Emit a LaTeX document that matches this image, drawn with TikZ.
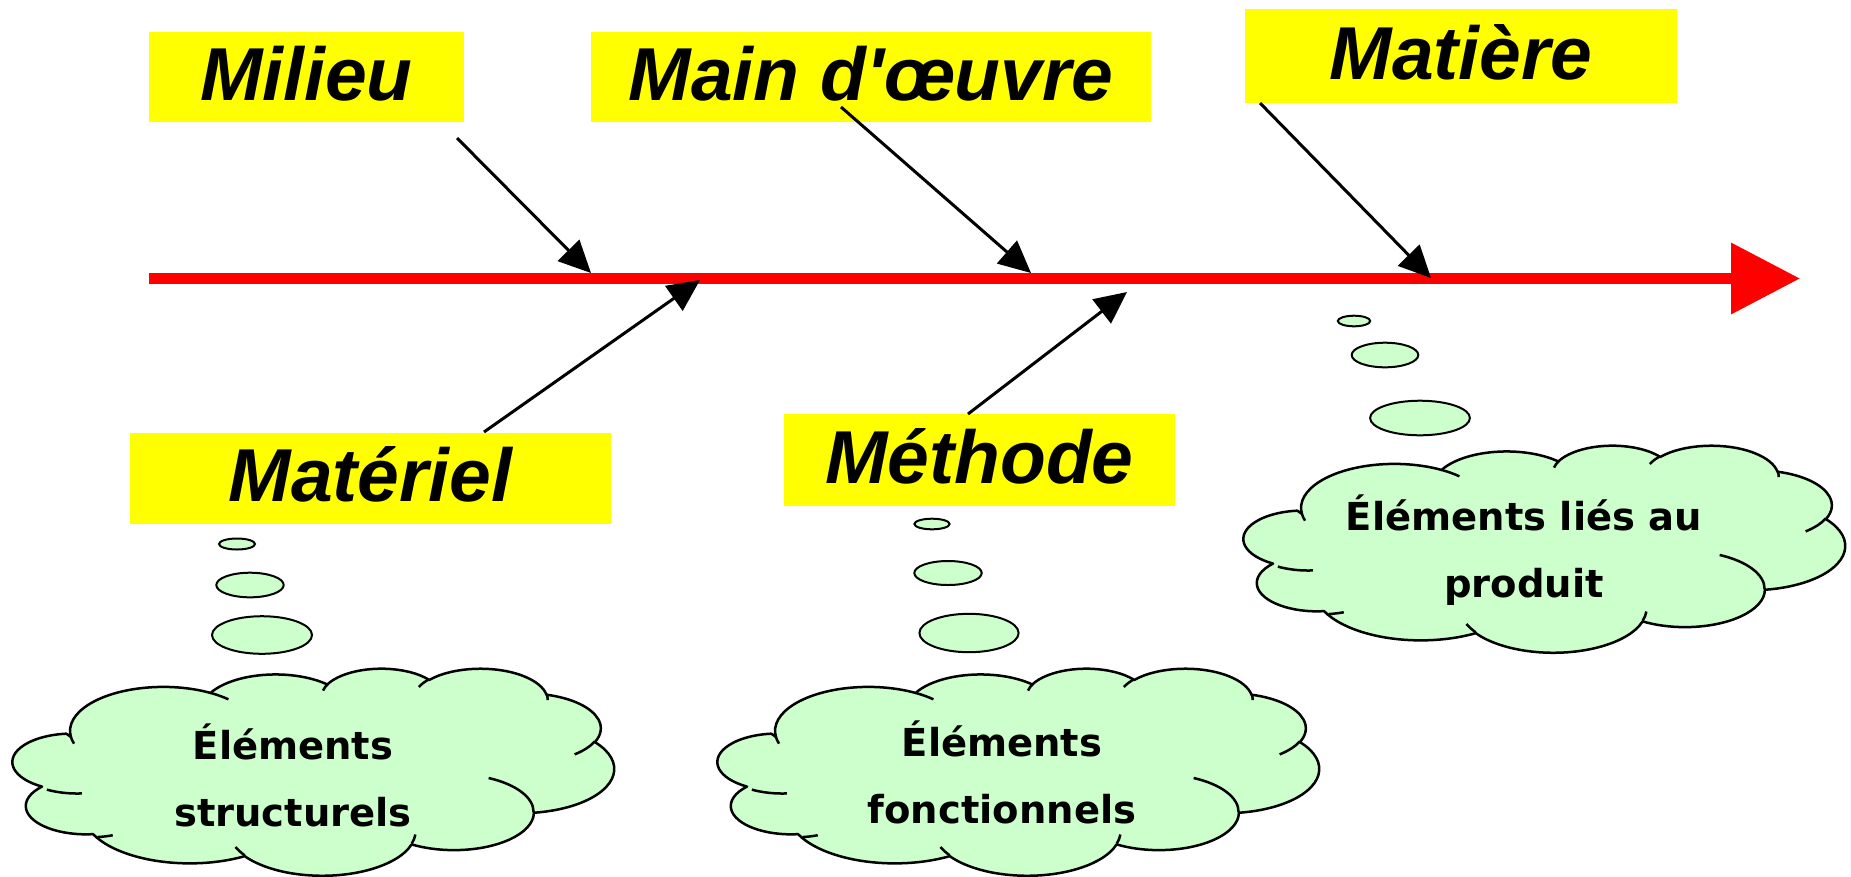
\documentclass[tikz,border=0pt]{standalone}
\usepackage{fontspec}
\setmainfont{Liberation Sans}
\newfontfamily\titlefam{Liberation Sans}[Ligatures=TeXOff]
\newfontfamily\cloudfam{DejaVu Sans}
\usetikzlibrary{arrows.meta}

\definecolor{labelyellow}{RGB}{255,255,0}
\definecolor{spinered}{RGB}{255,0,0}
\definecolor{cloudgreen}{RGB}{204,255,204}

% Elliptical arcs given by visual start/sweep angles -> parametric angles
\newcommand\setcloudarc[5]{%
  \pgfmathsetmacro\tmpa{atan2(#2*sin(#4),#3*cos(#4))}%
  \pgfmathsetmacro\tmpb{atan2(#2*sin(#4+#5),#3*cos(#4+#5))}%
  \pgfmathsetmacro\tmpd{\tmpb-\tmpa}%
  \pgfmathsetmacro\tmpd{\tmpd+360*(\tmpd<0)}%
  \expandafter\xdef\csname cl#1s\endcsname{\tmpa}%
  \expandafter\xdef\csname cl#1d\endcsname{\tmpd}%
}
% outline
\setcloudarc{A}{67.53}{91.90}{-190.4875}{123.7805}
\setcloudarc{B}{53.33}{72.67}{-144.1024}{89.9452}
\setcloudarc{C}{43.65}{59.45}{-145.8079}{99.7230}
\setcloudarc{D}{48.57}{65.95}{-130.9861}{117.2417}
\setcloudarc{E}{53.33}{72.73}{-78.7089}{109.0269}
\setcloudarc{F}{67.75}{92.20}{-46.2673}{130.2690}
\setcloudarc{G}{57.85}{78.67}{0.6250}{114.0333}
\setcloudarc{H}{67.52}{92.15}{22.4516}{115.1726}
\setcloudarc{I}{77.20}{105.43}{66.2426}{81.3690}
\setcloudarc{J}{43.60}{59.18}{-274.9421}{146.7356}
\setcloudarc{K}{43.45}{59.45}{-246.8285}{152.5189}
% inner strokes
\setcloudarc{a}{43.45}{59.45}{86.7420}{26.4295}
\setcloudarc{b}{43.60}{59.18}{73.6105}{11.4475}
\setcloudarc{c}{67.52}{92.15}{137.6242}{14.0811}
\setcloudarc{d}{67.52}{92.15}{6.4533}{15.9984}
\setcloudarc{e}{57.85}{78.67}{-70.2924}{70.9174}
\setcloudarc{f}{53.33}{72.73}{30.3180}{27.7515}
\setcloudarc{g}{48.57}{65.95}{-13.7443}{14.8589}
\setcloudarc{h}{48.57}{65.95}{-149.1815}{18.1954}
\setcloudarc{i}{43.65}{59.45}{-163.4943}{17.6864}
\setcloudarc{j}{67.53}{91.90}{-66.7070}{12.3194}
\setcloudarc{k}{67.53}{91.90}{157.6544}{11.8582}

\newcommand\titlefont{\titlefam\fontsize{75}{80}\selectfont\bfseries\itshape}
\newcommand\cloudfont{\cloudfam\fontsize{38.5}{67}\selectfont\bfseries}

\tikzset{
  thoughtcloud/.pic={
    \begin{scope}[x=1.381944pt, y=-0.479167pt]
      \filldraw[fill=cloudgreen, draw=black, line width=2.5pt, line join=round]
        (39.00,143.70)
        arc[x radius=67.53, y radius=91.90,  start angle=\clAs, delta angle=\clAd]
        arc[x radius=53.33, y radius=72.67,  start angle=\clBs, delta angle=\clBd]
        arc[x radius=43.65, y radius=59.45,  start angle=\clCs, delta angle=\clCd]
        arc[x radius=48.57, y radius=65.95,  start angle=\clDs, delta angle=\clDd]
        arc[x radius=53.33, y radius=72.73,  start angle=\clEs, delta angle=\clEd]
        arc[x radius=67.75, y radius=92.20,  start angle=\clFs, delta angle=\clFd]
        arc[x radius=57.85, y radius=78.67,  start angle=\clGs, delta angle=\clGd]
        arc[x radius=67.52, y radius=92.15,  start angle=\clHs, delta angle=\clHd]
        arc[x radius=77.20, y radius=105.43, start angle=\clIs, delta angle=\clId]
        arc[x radius=43.60, y radius=59.18,  start angle=\clJs, delta angle=\clJd]
        arc[x radius=43.45, y radius=59.45,  start angle=\clKs, delta angle=\clKd]
        -- cycle;
      \draw[line width=2.5pt]
        (46.93,261.77)  arc[x radius=43.45, y radius=59.45, start angle=\clas, delta angle=\clad]
        (69.28,348.99)  arc[x radius=43.60, y radius=59.18, start angle=\clbs, delta angle=\clbd]
        (164.78,390.90) arc[x radius=67.52, y radius=92.15, start angle=\clcs, delta angle=\clcd]
        (288.27,347.51) arc[x radius=67.52, y radius=92.15, start angle=\clds, delta angle=\cldd]
        (341.29,229.54) arc[x radius=57.85, y radius=78.67, start angle=\cles, delta angle=\cled]
        (417.98,153.54) arc[x radius=53.33, y radius=72.73, start angle=\clfs, delta angle=\clfd]
        (383.24,54.26)  arc[x radius=48.57, y radius=65.95, start angle=\clgs, delta angle=\clgd]
        (290.78,39.52)  arc[x radius=48.57, y radius=65.95, start angle=\clhs, delta angle=\clhd]
        (221.41,47.20)  arc[x radius=43.65, y radius=59.45, start angle=\clis, delta angle=\clid]
        (140.00,51.92)  arc[x radius=67.53, y radius=91.90, start angle=\cljs, delta angle=\cljd]
        (41.27,157.89)  arc[x radius=67.53, y radius=91.90, start angle=\clks, delta angle=\clkd];
    \end{scope}
  }
}

\begin{document}
\begin{tikzpicture}[x=1pt, y=-1pt,
  catbox/.style={fill=labelyellow, inner sep=0pt, font=\titlefont,
    text height=54pt, text depth=8pt},
  spine/.style={draw=spinered, line width=10.5pt,
    -{Triangle[length=69pt, width=69pt]}},
  branch/.style={draw=black, line width=3pt,
    -{Triangle[length=32pt, width=30pt]}},
  bubble/.style={draw=black, fill=cloudgreen, line width=2pt},
  cloudtext/.style={font=\cloudfont, align=center, inner sep=0pt, anchor=base}]

\useasboundingbox (0,0) rectangle (1851,876);

% main spine
\coordinate (spinestart) at (149,278.5);
\coordinate (spinetip) at (1800,278.5);
\draw[spine] (spinestart) -- (spinetip);

% cause categories
\node[catbox, minimum width=315pt, minimum height=90pt] (milieu) at (306.5,77) {Milieu};
\node[catbox, minimum width=560pt, minimum height=90pt] (mainoeuvre) at (871,77) {Main d'œuvre};
\node[catbox, minimum width=432pt, minimum height=94pt] (matiere) at (1461,56) {Matière};
\node[catbox, minimum width=481pt, minimum height=91pt] (materiel) at (370.5,478.5) {Matériel};
\node[catbox, minimum width=391pt, minimum height=92pt] (methode) at (979.5,460) {Méthode};

% branch arrows onto the spine
\coordinate (milieu-from) at (457,138);
\coordinate (milieu-to) at (591,273);
\coordinate (main-from) at (841,107);
\coordinate (main-to) at (1031,273);
\coordinate (matiere-from) at (1260,103);
\coordinate (matiere-to) at (1431,278);
\coordinate (materiel-from) at (484,432);
\coordinate (materiel-to) at (700,280);
\coordinate (methode-from) at (968,414);
\coordinate (methode-to) at (1127,292);
\draw[branch] (milieu-from) -- (milieu-to);
\draw[branch] (main-from) -- (main-to);
\draw[branch] (matiere-from) -- (matiere-to);
\draw[branch] (materiel-from) -- (materiel-to);
\draw[branch] (methode-from) -- (methode-to);

% thought clouds
\pic at (17,668) {thoughtcloud};
\pic at (722,668) {thoughtcloud};
\pic at (1248,445) {thoughtcloud};

% thought bubbles
\draw[bubble] (237,544) ellipse[x radius=18pt, y radius=5.5pt];
\draw[bubble] (250,585) ellipse[x radius=33.7pt, y radius=12.3pt];
\draw[bubble] (262,635) ellipse[x radius=50pt, y radius=18.8pt];
\draw[bubble] (932,524) ellipse[x radius=17.6pt, y radius=5.3pt];
\draw[bubble] (948,573) ellipse[x radius=33.7pt, y radius=12pt];
\draw[bubble] (969,633) ellipse[x radius=49.6pt, y radius=19.2pt];
\draw[bubble] (1354,321) ellipse[x radius=16.2pt, y radius=5.3pt];
\draw[bubble] (1385,355) ellipse[x radius=33.3pt, y radius=12.3pt];
\draw[bubble] (1420,418) ellipse[x radius=49.9pt, y radius=17.3pt];

% cloud texts (anchored on the baseline of the last line)
\node[cloudtext] (structurels) at (293,826) {Éléments\\structurels};
\node[cloudtext] (fonctionnels) at (1002,823) {Éléments\\fonctionnels};
\node[cloudtext] (produit) at (1524,597) {Éléments liés au\\produit};
\end{tikzpicture}
\end{document}
